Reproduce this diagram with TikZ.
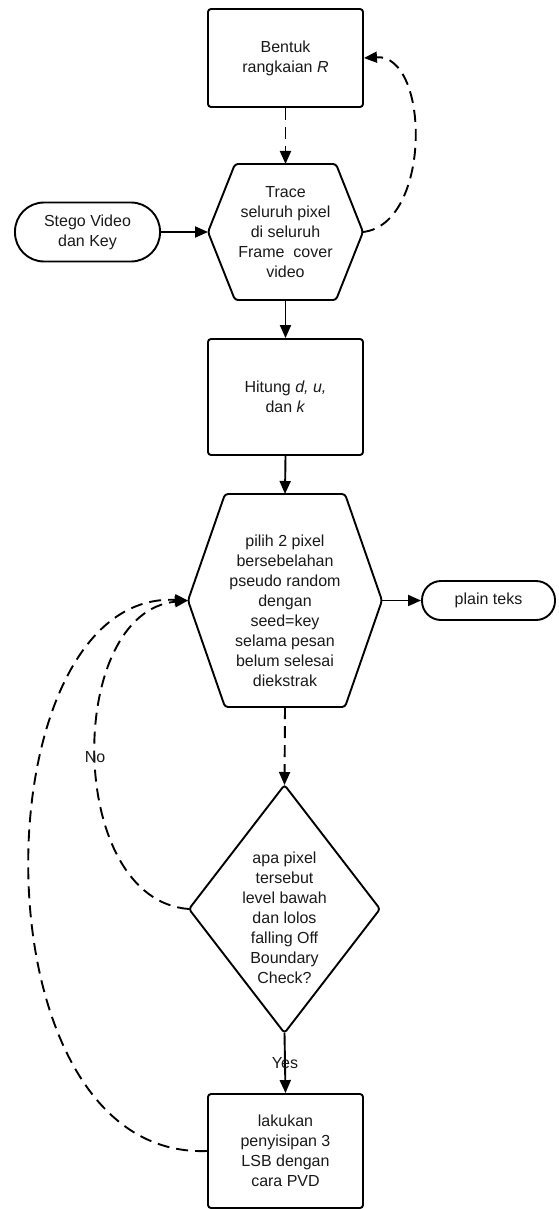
\documentclass[tikz,border=0pt]{standalone}
\usepackage{fontspec}
\setmainfont{Liberation Sans}
\usetikzlibrary{arrows.meta,calc}
\tikzset{
  txt/.style={align=center, font=\fontsize{16}{20}\selectfont, text=black!90, inner sep=0pt},
  shp/.style={draw, line width=1.9pt, rounded corners=3pt},
  boxn/.style={txt, shp, minimum width=155pt},
  frm/.style={inner sep=0pt, outer sep=0pt},
  conn/.style={line width=1.9pt, -{Triangle[length=13pt,width=11pt]}},
  dsh/.style={conn, dash pattern=on 12pt off 7pt},
}
\newcommand\hexdraw[2]{\draw[shp] ($(#1.north west)+(#2,0)$) -- ($(#1.north east)+(-#2,0)$) -- (#1.east) -- ($(#1.south east)+(-#2,0)$) -- ($(#1.south west)+(#2,0)$) -- (#1.west) -- cycle;}
\begin{document}
\begin{tikzpicture}[x=1pt,y=-1pt]
\useasboundingbox (0,0) rectangle (558,1209);
% boxes
\node[boxn, minimum height=98pt] (R) at (285.5,58) {Bentuk\\rangkaian \textit{R}};
\node[frm, minimum width=155pt, minimum height=136pt] (H1) at (285.5,232) {};
\hexdraw{H1}{27}
\node[txt] (H1t) at (285.5,232) {Trace\\seluruh pixel\\di seluruh\\Frame\ \ cover\\video};
\node[txt, draw, line width=1.9pt, rounded corners=29pt, minimum width=145pt, minimum height=59pt] (S) at (87.5,232) {Stego Video\\dan Key};
\node[boxn, minimum height=116pt] (K) at (285.5,397) {Hitung \textit{d, u,}\\dan \textit{k}};
\node[frm, minimum width=194pt, minimum height=213pt] (H2) at (285,600.5) {};
\hexdraw{H2}{37}
\node[txt] (H2t) at (285,611) {pilih 2 pixel\\bersebelahan\\pseudo random\\dengan\\seed=key\\selama pesan\\belum selesai\\diekstrak};
\node[txt, draw, line width=1.9pt, rounded corners=19pt, minimum width=133pt, minimum height=39pt] (P) at (488.5,600.5) {plain teks};
\node[frm, minimum width=191pt, minimum height=248pt] (D) at (284.5,909) {};
\draw[shp] (D.north) -- (D.east) -- (D.south) -- (D.west) -- cycle;
\node[txt] (Dt) at (284.5,918) {apa pixel\\tersebut\\level bawah\\dan lolos\\falling Off\\Boundary\\Check?};
\node[boxn, minimum height=114pt] (B) at (285.5,1151) {lakukan\\penyisipan 3\\LSB dengan\\cara PVD};
% connectors
\draw[dsh] (R.south) -- (H1.north);
\draw[dsh] (H1.east) .. controls (432,224) and (430,54) .. (R.east);
\draw[conn] (S.east) -- (H1.west);
\draw[conn] (H1.south) -- (K.north);
\draw[conn] (K.south) -- (H2.north);
\draw[conn] (H2.east) -- (P.west);
\draw[dsh] (H2.south) -- (D.north);
\draw[conn] (D.south) -- (B.north);
\node[txt] (yes) at (285,1063) {Yes};
\draw[dsh] (D.west) .. controls (65,900) and (65,612) .. (H2.west);
\node[txt] (no) at (95,757) {No};
\draw[dsh] (B.west) .. controls (-30,1160) and (-22,590) .. (H2.west);
\end{tikzpicture}
\end{document}
